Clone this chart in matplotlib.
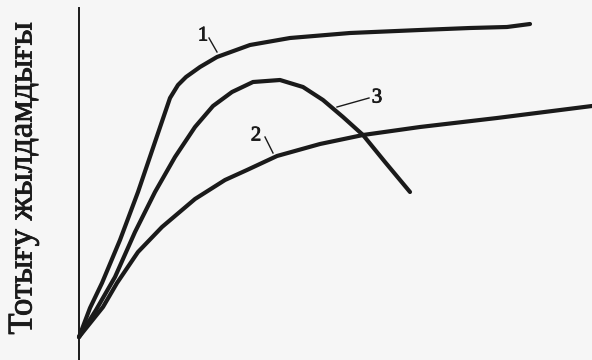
import matplotlib
matplotlib.use("Agg")
import matplotlib.pyplot as plt
import matplotlib.patheffects as pe

# кривые: время (усл. ед.) и скорость окисления (усл. ед.)
t1 = [0, 11, 23, 41, 59, 76, 91, 99, 107, 121, 138, 171, 211, 271, 341, 391, 428, 451]
v1 = [0, 29, 54, 97, 145, 195, 239, 252, 260, 270, 280, 292, 299, 304, 307, 309, 310, 313]

t2 = [0, 24, 38, 59, 83, 116, 146, 168, 198, 241, 284, 341, 418, 513]
v2 = [0, 30, 54, 85, 110, 138, 157, 167, 181, 193, 202, 210, 219, 231]

t3 = [0, 17, 36, 56, 76, 96, 116, 134, 153, 174, 201, 224, 244, 264, 284, 306, 331]
v3 = [0, 27, 60, 105, 145, 180, 210, 231, 245, 255, 257, 250, 237, 220, 202, 175, 145]

ylabel = "Тотығу жылдамдығы"
ink = "#1a1a1a"
serif = "Liberation Serif"

fig = plt.figure(figsize=(5.92, 3.6), dpi=100)
fig.patch.set_facecolor("#f6f6f6")
ax = fig.add_axes([0, 0, 1, 1])
ax.set_facecolor("#f6f6f6")
ax.set_xlim(-79, 513)
ax.set_ylim(-23, 337)

for t, v in [(t1, v1), (t2, v2), (t3, v3)]:
    ax.plot(t, v, color=ink, lw=3.0, solid_joinstyle="round", solid_capstyle="round")

# ось
ax.plot([0, 0], [-23, 329], color=ink, lw=1.4)

# номера кривых с выносками
stroke = [pe.withStroke(linewidth=0.6, foreground=ink)]
ax.text(124, 301, "1", fontsize=15, family=serif, ha="center", va="center", color=ink, path_effects=stroke)
ax.plot([130, 138], [299, 285], color=ink, lw=1.0)
ax.text(177, 201, "2", fontsize=15, family=serif, ha="center", va="center", color=ink, path_effects=stroke)
ax.plot([186, 194], [200, 184], color=ink, lw=1.0)
ax.text(298, 239, "3", fontsize=15, family=serif, ha="center", va="center", color=ink, path_effects=stroke)
ax.plot([258, 290], [230, 239], color=ink, lw=1.0)

ax.text(-56, 159, ylabel, rotation=90, fontsize=25, family=serif,
        ha="center", va="center", color=ink, path_effects=stroke)

ax.axis("off")
fig.savefig("out.png", dpi=100, facecolor=fig.get_facecolor())
